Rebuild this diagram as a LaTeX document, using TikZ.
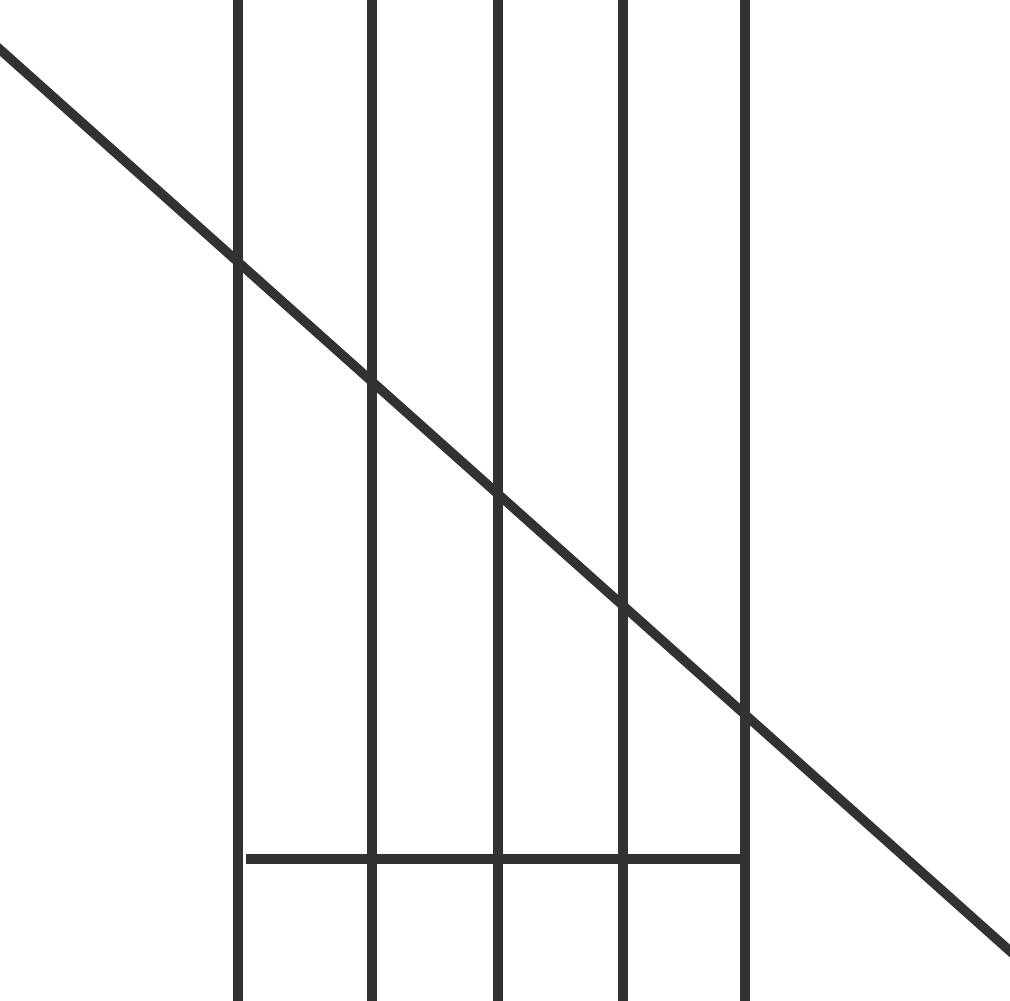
\documentclass[tikz,border=0pt]{standalone}
\definecolor{ink}{RGB}{50,50,50}
\tikzset{stroke/.style={draw=ink,line width=9.5pt}}
\begin{document}
\begin{tikzpicture}[x=1pt,y=-1pt]
\useasboundingbox (0,0) rectangle (1010,1001);
\clip (0,0) rectangle (1010,1001);
\fill[white] (0,0) rectangle (1010,1001);
\foreach \x in {238,372,498,623,745}{
  \draw[stroke] (\x,-10) -- (\x,1011);
}
\draw[stroke] (246,859) -- (750,859);
\draw[stroke] (-10,40.6) -- (1020,960);
\end{tikzpicture}
\end{document}
